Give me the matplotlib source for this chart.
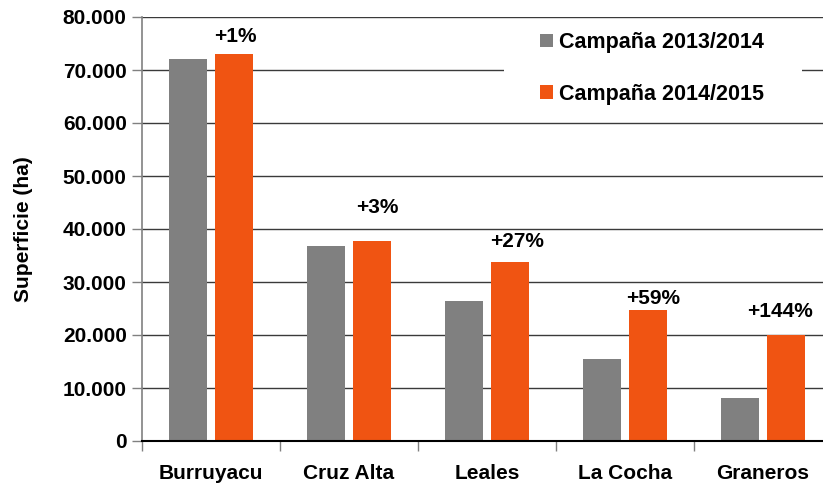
import numpy as np
import matplotlib
matplotlib.use("Agg")
import matplotlib.pyplot as plt
from matplotlib.ticker import FuncFormatter, FixedLocator
from matplotlib.patches import Rectangle

# Data
departamentos = ["Burruyacu", "Cruz Alta", "Leales", "La Cocha", "Graneros"]
campana_13_14 = [72000, 36800, 26500, 15500, 8200]
campana_14_15 = [73000, 37800, 33700, 24700, 20000]
variacion = ["+1%", "+3%", "+27%", "+59%", "+144%"]
series_labels = ["Campaña 2013/2014", "Campaña 2014/2015"]

# label nudges (pixels) relative to the top of the orange bar
label_dx = [2, 6, 7, 5, -6]
label_dy = [12, 28, 15, 6, 18]

GRAY = "#808080"
ORANGE = "#F05412"
FS = 15

plt.rcParams["font.family"] = ["Liberation Sans", "DejaVu Sans"]
plt.rcParams["font.weight"] = "bold"

fig = plt.figure(figsize=(8.23, 4.87), dpi=100)
ax = fig.add_axes([142 / 823, 1 - 441 / 487, (832 - 142) / 823, (441 - 17) / 487])

x = np.arange(len(departamentos))
w = 0.275
off = 0.165
ax.bar(x - off, campana_13_14, width=w, color=GRAY, label=series_labels[0], zorder=3)
ax.bar(x + off, campana_14_15, width=w, color=ORANGE, label=series_labels[1], zorder=3)

for i, txt in enumerate(variacion):
    ax.annotate(txt, xy=(x[i] + off, campana_14_15[i]),
                xytext=(label_dx[i], label_dy[i]), textcoords="offset pixels",
                ha="center", va="baseline", fontsize=FS, fontweight="bold",
                color="black", zorder=5)

ax.set_xlim(-0.5, len(departamentos) - 0.5)
ax.set_ylim(0, 80000)
ax.set_yticks(np.arange(0, 80001, 10000))
ax.yaxis.set_major_formatter(FuncFormatter(lambda v, p: f"{int(v):,}".replace(",", ".")))
ax.grid(axis="y", color="#3a3a3a", linewidth=1.0, zorder=0)
ax.set_axisbelow(True)

# category boundaries as ticks, names centred on minor ticks
ax.xaxis.set_major_locator(FixedLocator(np.arange(-0.5, len(departamentos), 1.0)))
ax.xaxis.set_major_formatter(FuncFormatter(lambda v, p: ""))
ax.xaxis.set_minor_locator(FixedLocator(x))
ax.set_xticklabels(departamentos, minor=True)
ax.tick_params(axis="x", which="major", length=7, color=GRAY, width=1)
ax.tick_params(axis="x", which="minor", length=0, pad=16.5, labelsize=FS)
ax.tick_params(axis="y", length=7, color=GRAY, width=1, labelsize=FS, pad=4)

for s in ["top", "right"]:
    ax.spines[s].set_visible(False)
ax.spines["left"].set_color(GRAY)
ax.spines["left"].set_linewidth(1.2)
ax.spines["bottom"].set_color("black")
ax.spines["bottom"].set_linewidth(1.5)
ax.spines["bottom"].set_zorder(4)

ax.set_ylabel("Superficie (ha)", fontsize=FS, fontweight="bold")
ax.yaxis.set_label_coords(-0.158, 0.5)

# white block behind the legend (breaks the 70.000 gridline like the original)
ax.add_patch(Rectangle((504 / 823, 1 - 115 / 487), 298 / 823, 90 / 487,
                       transform=fig.transFigure, facecolor="white",
                       edgecolor="none", zorder=2, clip_on=False))

leg = ax.legend(loc="upper left", bbox_to_anchor=(540 / 823, 1 - 32 / 487),
                bbox_transform=fig.transFigure, frameon=False,
                fontsize=15.5, handlelength=0.6, handleheight=0.6,
                handletextpad=0.3, labelspacing=1.42, borderpad=0,
                borderaxespad=0)
leg.set_zorder(6)
for t in leg.get_texts():
    t.set_fontweight("bold")

fig.savefig("out.png", dpi=100)
